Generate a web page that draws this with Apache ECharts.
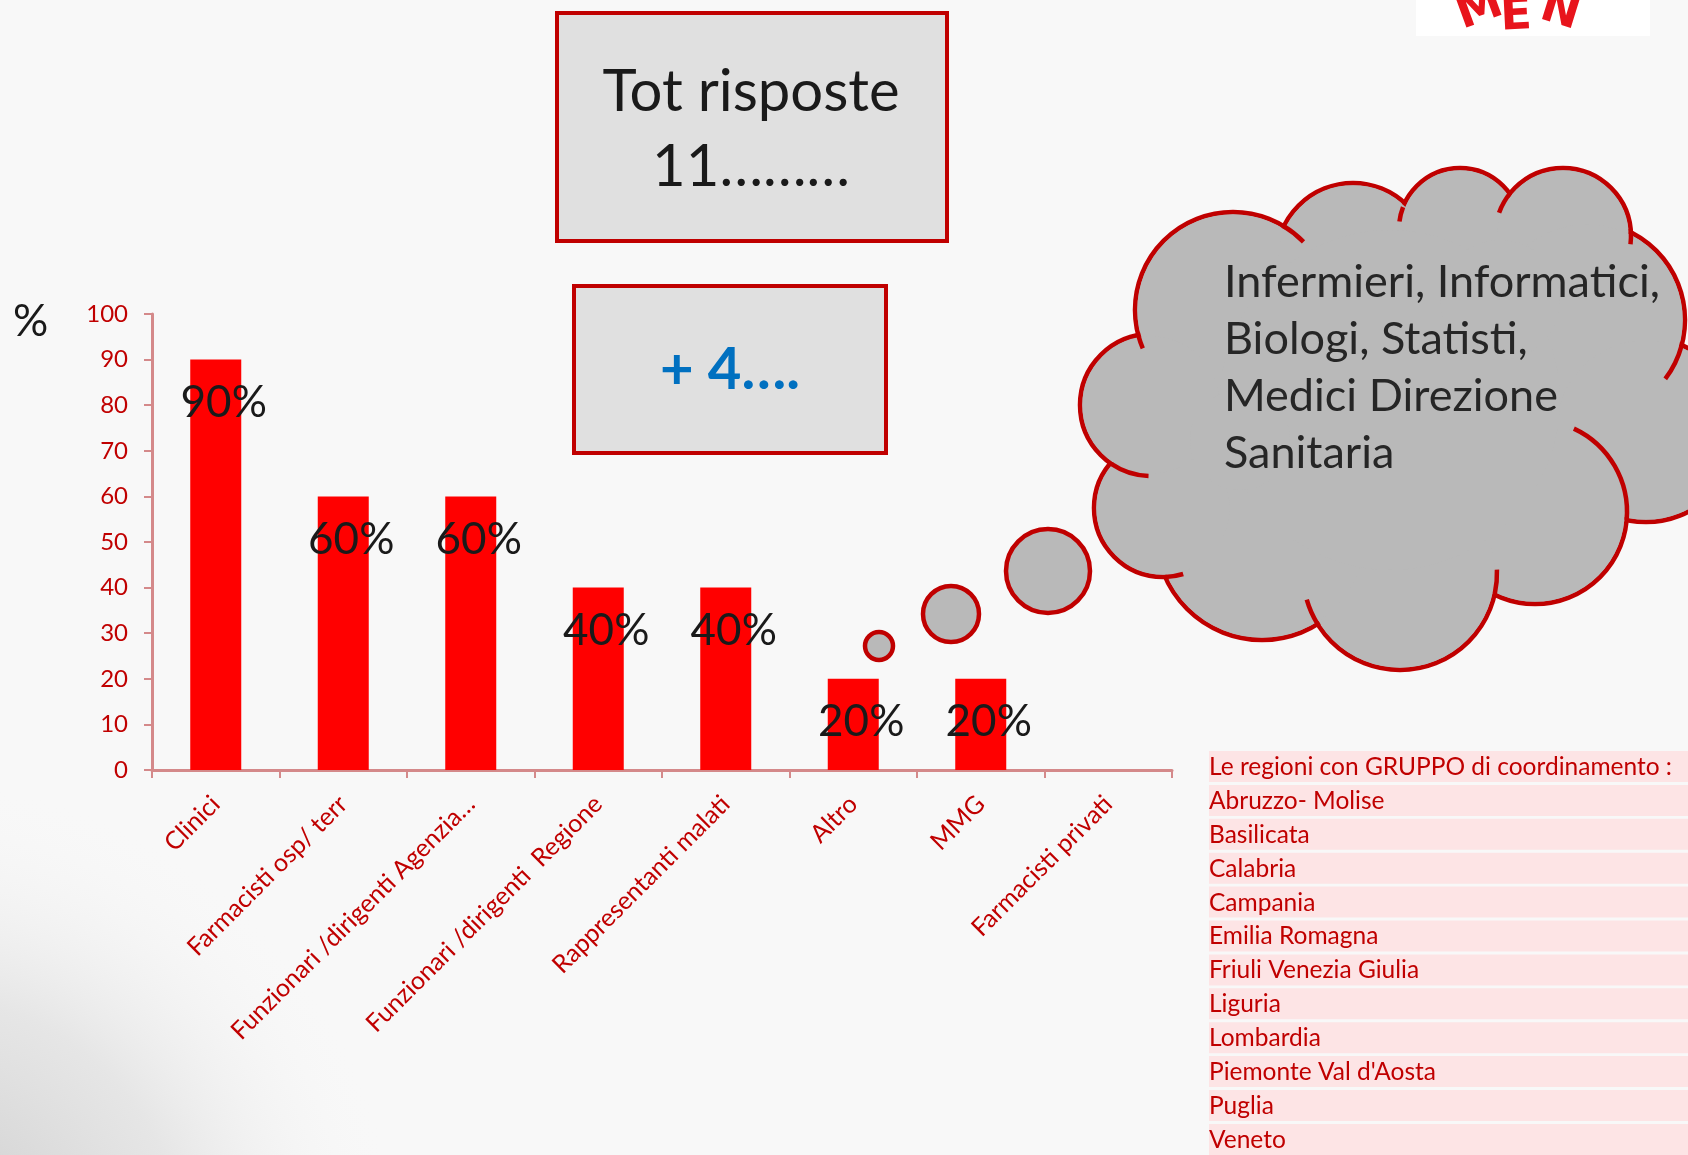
<!DOCTYPE html>
<html>
<head>
<meta charset="utf-8">
<script src="https://cdn.jsdelivr.net/npm/echarts@6/dist/echarts.min.js"></script>
<style>
  html, body { margin: 0; padding: 0; background: #f8f8f8; }
  #main { width: 1688px; height: 1155px; }
</style>
</head>
<body>
<div id="main"></div>
<script>
// dati del grafico
const categories = ['Clinici', 'Farmacisti osp/ terr', 'Funzionari /dirigenti Agenzia…', 'Funzionari /dirigenti  Regione', 'Rappresentanti malati', 'Altro', 'MMG', 'Farmacisti privati']
const percentuali = [90, 60, 60, 40, 40, 20, 20, 0]
const yTicks = [0, 10, 20, 30, 40, 50, 60, 70, 80, 90, 100]
const regioni = ['Le regioni con GRUPPO di coordinamento :', 'Abruzzo- Molise', 'Basilicata', 'Calabria', 'Campania', 'Emilia Romagna', 'Friuli Venezia Giulia', 'Liguria', 'Lombardia', "Piemonte Val d'Aosta", 'Puglia', 'Veneto']
const altriProfili = ['Infermieri, Informatici,', 'Biologi, Statisti,', 'Medici Direzione', 'Sanitaria']

const FONT = 'Lato, "Noto Sans", sans-serif'
const RED = '#c00000'
const AXIS = '#d4898a'
const GREY = '#b9b9b9'

// nuvoletta: lobi [cx, cy, r]
const lobi = [
  [1233, 310, 98], [1353, 260, 77], [1460, 229, 61], [1563, 236, 68],
  [1587, 320, 98], [1646, 430, 92], [1535, 512, 92], [1400, 573, 97],
  [1262, 534, 106], [1163, 508, 69], [1151, 405, 71]
]
// riempimenti interni senza bordo
const riempimenti = [[1390, 400, 170], [1240, 440, 50], [1500, 300, 60]]
// archi interni [indice lobo, da, a] (gradi)
const archi = [
  [0, -59, -44], [2, 187, 201], [3, 200, 219], [3, -3, 7], [4, 15, 37],
  [6, -65, 5], [7, -2, 12], [7, 148, 164], [9, 73, 88], [10, 92, 124], [0, 157, 165]
]
const bolle = [[879, 646, 14], [951, 614, 28], [1048, 571, 42]]

const elements = []
// ombra in basso a sinistra
elements.push({
  type: 'rect', z: -10, silent: true,
  shape: { x: 0, y: 600, width: 700, height: 555 },
  style: {
    fill: {
      type: 'radial', x: -80, y: 1260, r: 480, global: true,
      colorStops: [
        { offset: 0, color: 'rgba(200,200,200,1)' },
        { offset: 0.55, color: 'rgba(222,222,222,0.7)' },
        { offset: 1, color: 'rgba(248,248,248,0)' }
      ]
    }
  }
})
// riquadri
elements.push({
  type: 'rect', shape: { x: 557, y: 13, width: 390, height: 228 },
  style: { fill: '#e0e0e0', stroke: RED, lineWidth: 4 }
})
elements.push({
  type: 'text', x: 751, y: 130,
  style: { text: 'Tot risposte\n11………', font: '58px ' + FONT, fill: '#1a1a1a', align: 'center', verticalAlign: 'middle', lineHeight: 75 }
})
elements.push({
  type: 'rect', shape: { x: 574, y: 286, width: 312, height: 167 },
  style: { fill: '#e0e0e0', stroke: RED, lineWidth: 4 }
})
elements.push({
  type: 'text', x: 730, y: 370,
  style: { text: '+ 4….', font: 'bold 58px ' + FONT, fill: '#0070c0', align: 'center', verticalAlign: 'middle' }
})
// %
elements.push({
  type: 'text', x: 13, y: 322,
  style: { text: '%', font: '44px ' + FONT, fill: '#1a1a1a', verticalAlign: 'middle' }
})
// nuvola
lobi.forEach(l => elements.push({
  type: 'circle', shape: { cx: l[0], cy: l[1], r: l[2] },
  style: { fill: GREY, stroke: RED, lineWidth: 4.5 }
}))
lobi.forEach(l => elements.push({
  type: 'circle', shape: { cx: l[0], cy: l[1], r: l[2] - 2.4 },
  style: { fill: GREY }
}))
riempimenti.forEach(f => elements.push({
  type: 'circle', shape: { cx: f[0], cy: f[1], r: f[2] }, style: { fill: GREY }
}))
archi.forEach(a => {
  const l = lobi[a[0]]
  elements.push({
    type: 'arc',
    shape: { cx: l[0], cy: l[1], r: l[2], startAngle: a[1] * Math.PI / 180, endAngle: a[2] * Math.PI / 180, clockwise: true },
    style: { stroke: RED, lineWidth: 4.5, fill: 'none' }
  })
})
bolle.forEach(b => elements.push({
  type: 'circle', shape: { cx: b[0], cy: b[1], r: b[2] },
  style: { fill: GREY, stroke: RED, lineWidth: 4.5 }
}))
elements.push({
  type: 'text', x: 1224, y: 254,
  style: { text: altriProfili.join('\n'), font: '45px ' + FONT, fill: '#262626', verticalAlign: 'top', lineHeight: 57 }
})
// tabella regioni
regioni.forEach((r, i) => {
  const top = 751 + i * 33.9
  elements.push({
    type: 'rect', shape: { x: 1209, y: top, width: 479, height: i === regioni.length - 1 ? 60 : 31 },
    style: { fill: '#fde4e5' }
  })
  elements.push({
    type: 'text', x: 1209, y: top + 16,
    style: { text: r, font: '24.5px ' + FONT, fill: RED, verticalAlign: 'middle' }
  })
})
// logo (tagliato)
elements.push({ type: 'rect', shape: { x: 1416, y: 0, width: 234, height: 36 }, style: { fill: '#ffffff' } })
const logo = [['\u2019', 1450, 2, 0.5], ['M', 1480, 10, 0.35], ['E', 1516, 17, 0.05], ['N', 1560, 12, -0.3], ['\u2018', 1612, 0, -0.5]]
logo.forEach(c => elements.push({
  type: 'text', x: c[1], y: c[2], rotation: c[3],
  style: { text: c[0], font: 'bold 46px "DejaVu Sans"', fill: '#e8141c', align: 'center', verticalAlign: 'middle' }
}))

const mycharts = echarts.init(document.getElementById('main'))
mycharts.setOption({
  backgroundColor: '#f8f8f8',
  animation: false,
  textStyle: { fontFamily: FONT },
  grid: { left: 152, right: 516, top: 314, bottom: 385 },
  xAxis: {
    type: 'category',
    data: categories,
    axisLine: { lineStyle: { color: AXIS, width: 3 } },
    axisTick: { show: true, length: 8, lineStyle: { color: AXIS, width: 2 } },
    axisLabel: { rotate: 45, interval: 0, color: RED, fontSize: 25, fontFamily: FONT, margin: 30 }
  },
  yAxis: {
    type: 'value',
    min: yTicks[0],
    max: yTicks[yTicks.length - 1],
    interval: yTicks[1] - yTicks[0],
    axisLine: { show: true, lineStyle: { color: AXIS, width: 3 } },
    axisTick: { show: true, length: 8, lineStyle: { color: AXIS, width: 2 } },
    axisLabel: { color: RED, fontSize: 24, fontFamily: FONT, margin: 24 },
    splitLine: { show: false }
  },
  series: [{
    type: 'bar',
    data: percentuali,
    barWidth: '40%',
    itemStyle: { color: '#ff0000' },
    label: {
      show: true,
      position: 'insideTop',
      distance: 21,
      offset: [8, 0],
      color: '#1a1a1a',
      fontSize: 44,
      fontFamily: FONT,
      formatter: p => (p.value ? p.value + '%' : '')
    }
  }],
  graphic: { elements: elements }
})
</script>
</body>
</html>
